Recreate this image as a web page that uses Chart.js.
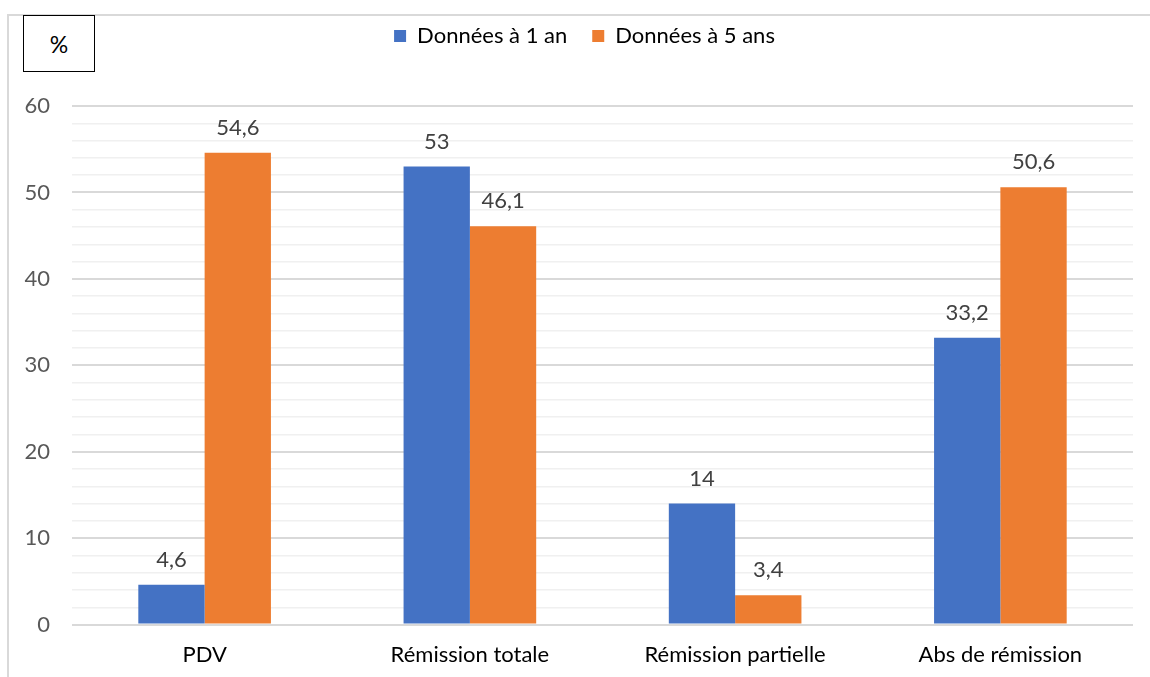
<!DOCTYPE html>
<html>
<head>
<meta charset="utf-8">
<script src="https://cdn.jsdelivr.net/npm/chart.js@4"></script>
<style>
  body { margin: 0; background: #fff; }
  #wrap { position: relative; width: 1150px; height: 677px; }
  #frame { position: absolute; left: 7px; top: 14px; width: 1200px; height: 700px;
           border-top: 2px solid #d9d9d9; border-left: 2px solid #d9d9d9; }
  #unit { position: absolute; left: 23px; top: 15px; width: 70px; height: 55px;
          border: 1px solid #000; font: 23px Lato, sans-serif; color: #000;
          display: flex; align-items: center; justify-content: center; background: #fff; }
  canvas { position: absolute; left: 0; top: 0; }
</style>
</head>
<body>
<div id="wrap">
  <div id="frame"></div>
  <canvas id="chart" width="1150" height="677"></canvas>
  <div id="unit">%</div>
</div>
<script>
// Categories and series
const categories = ['PDV', 'Rémission totale', 'Rémission partielle', 'Abs de rémission'];
const oneYear = [4.6, 53, 14, 33.2];
const fiveYears = [54.6, 46.1, 3.4, 50.6];
const seriesNames = ['Données à 1 an', 'Données à 5 ans'];
const yTicks = [0, 10, 20, 30, 40, 50, 60];

const fontFamily = 'Lato, sans-serif';
const fontSize = 22;

// Value labels above each bar (French decimal comma)
const barLabels = {
    id: 'barLabels',
    afterDatasetsDraw(chart) {
        const ctx = chart.ctx;
        ctx.save();
        ctx.font = fontSize + 'px ' + fontFamily;
        ctx.fillStyle = '#404040';
        ctx.textAlign = 'center';
        ctx.textBaseline = 'middle';
        chart.data.datasets.forEach((ds, i) => {
            chart.getDatasetMeta(i).data.forEach((bar, j) => {
                const txt = String(ds.data[j]).replace('.', ',');
                ctx.fillText(txt, bar.x, bar.y - 25);
            });
        });
        ctx.restore();
    }
};

// Extra space under the legend, and nudge it to the right
const legendSpace = {
    id: 'legendSpace',
    beforeInit(chart) {
        const fit = chart.legend.fit;
        chart.legend.fit = function () {
            fit.bind(chart.legend)();
            this.height += 49;
        };
    },
    afterLayout(chart) {
        chart.legend.left += 18;
        chart.legend.right += 18;
    }
};

new Chart(document.getElementById('chart').getContext('2d'), {
    type: 'bar',
    data: {
        labels: categories,
        datasets: [{
            label: seriesNames[0],
            data: oneYear,
            backgroundColor: '#4472c4',
            categoryPercentage: 0.5,
            barPercentage: 1.0
        }, {
            label: seriesNames[1],
            data: fiveYears,
            backgroundColor: '#ed7d31',
            categoryPercentage: 0.5,
            barPercentage: 1.0
        }]
    },
    options: {
        responsive: false,
        animation: false,
        layout: { padding: { top: 0, right: 17, left: 0, bottom: 0 } },
        plugins: {
            legend: {
                position: 'top',
                labels: {
                    boxWidth: 12,
                    boxHeight: 12,
                    padding: 25,
                    color: '#000',
                    font: { family: fontFamily, size: fontSize }
                }
            },
            tooltip: { enabled: false }
        },
        scales: {
            x: {
                grid: { display: false },
                border: { display: false },
                ticks: { color: '#000', font: { family: fontFamily, size: fontSize }, padding: 9 }
            },
            y: {
                min: yTicks[0],
                max: yTicks[yTicks.length - 1],
                afterFit(scale) { scale.width = 72; },
                border: { display: false },
                grid: {
                    color: c => (c.tick.value % 10 === 0 ? '#d9d9d9' : '#f0f0f0'),
                    lineWidth: c => (c.tick.value % 10 === 0 ? 2 : 1.5),
                    drawTicks: false
                },
                ticks: {
                    stepSize: 2,
                    autoSkip: false,
                    padding: 22,
                    color: '#595959',
                    font: { family: fontFamily, size: fontSize },
                    callback: v => (yTicks.includes(v) ? v : '')
                }
            }
        }
    },
    plugins: [barLabels, legendSpace]
});
</script>
</body>
</html>
